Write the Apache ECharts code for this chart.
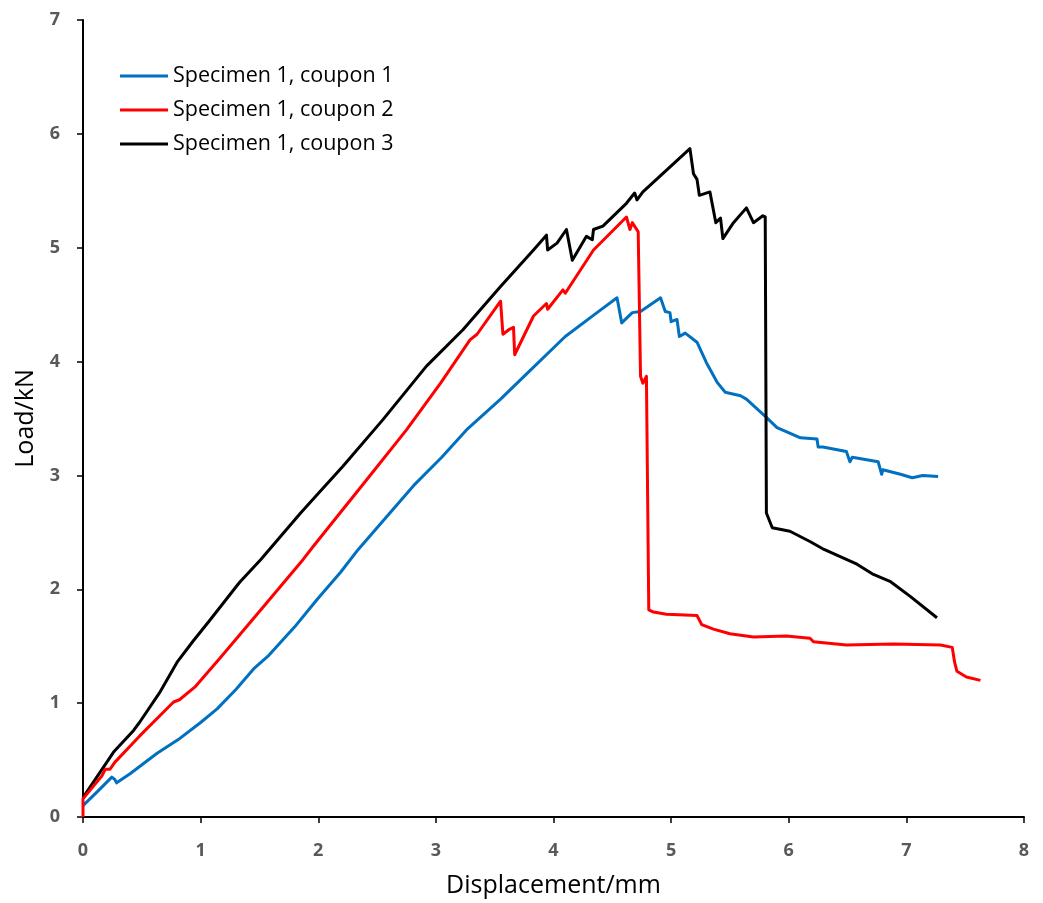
<!DOCTYPE html>
<html>
<head>
<meta charset="utf-8">
<script src="https://cdn.jsdelivr.net/npm/echarts@6/dist/echarts.min.js"></script>
<style>html,body{margin:0;padding:0;background:#fff;}#chart{width:1043px;height:903px;}</style>
</head>
<body>
<div id="chart"></div>
<script>
const seriesNames = ['Specimen 1, coupon 1', 'Specimen 1, coupon 2', 'Specimen 1, coupon 3'];
const xTicks = [0,1,2,3,4,5,6,7,8];
const yTicks = [0,1,2,3,4,5,6,7];

// [displacement mm, load kN]
const coupon1 = [
  [0,0.10],[0.12,0.22],[0.245,0.35],[0.27,0.33],[0.286,0.30],[0.40,0.38],[0.63,0.56],[0.81,0.68],
  [1.00,0.83],[1.14,0.95],[1.30,1.12],[1.45,1.30],[1.58,1.42],[1.80,1.67],[1.99,1.91],[2.19,2.15],
  [2.34,2.35],[2.55,2.60],[2.81,2.91],[3.05,3.16],[3.26,3.40],[3.55,3.67],[3.80,3.92],[4.10,4.22],
  [4.37,4.43],[4.54,4.56],[4.58,4.34],[4.67,4.43],[4.74,4.44],[4.91,4.56],[4.95,4.44],[4.99,4.43],
  [5.00,4.35],[5.05,4.37],[5.07,4.22],[5.12,4.25],[5.22,4.17],[5.30,3.99],[5.39,3.82],[5.46,3.73],
  [5.59,3.70],[5.64,3.67],[5.81,3.51],[5.90,3.42],[6.10,3.33],[6.24,3.32],[6.25,3.25],[6.29,3.25],
  [6.49,3.21],[6.52,3.12],[6.54,3.16],[6.76,3.12],[6.79,3.01],[6.80,3.05],[6.95,3.01],[7.05,2.98],
  [7.14,3.00],[7.27,2.99]
];
const coupon2 = [
  [0,0],[0,0.16],[0.08,0.26],[0.16,0.36],[0.19,0.42],[0.23,0.42],[0.27,0.48],[0.48,0.71],[0.77,1.01],
  [0.82,1.03],[0.95,1.14],[1.16,1.39],[1.48,1.78],[1.87,2.26],[1.96,2.38],[2.41,2.96],[2.75,3.40],
  [3.04,3.81],[3.29,4.19],[3.35,4.24],[3.55,4.53],[3.57,4.24],[3.62,4.28],[3.66,4.30],[3.67,4.06],
  [3.83,4.40],[3.94,4.51],[3.95,4.46],[4.08,4.63],[4.10,4.60],[4.34,4.98],[4.62,5.27],[4.65,5.16],
  [4.67,5.22],[4.72,5.14],[4.74,3.87],[4.76,3.81],[4.79,3.87],[4.81,1.82],[4.85,1.80],[4.96,1.78],
  [5.22,1.77],[5.26,1.69],[5.36,1.65],[5.50,1.61],[5.70,1.58],[5.98,1.59],[6.18,1.57],[6.21,1.54],
  [6.49,1.51],[6.89,1.52],[7.29,1.51],[7.39,1.49],[7.41,1.36],[7.43,1.28],[7.51,1.23],[7.63,1.20]
];
const coupon3 = [
  [0,0.17],[0.26,0.57],[0.43,0.76],[0.48,0.83],[0.65,1.09],[0.80,1.36],[0.94,1.55],[1.08,1.73],
  [1.33,2.06],[1.51,2.26],[1.85,2.67],[1.99,2.83],[2.21,3.08],[2.55,3.49],[2.92,3.96],[3.23,4.28],
  [3.55,4.66],[3.83,4.98],[3.94,5.11],[3.95,4.98],[4.03,5.04],[4.11,5.16],[4.16,4.89],[4.28,5.10],
  [4.33,5.07],[4.34,5.16],[4.42,5.19],[4.62,5.39],[4.69,5.48],[4.71,5.42],[4.76,5.49],[5.16,5.87],
  [5.19,5.65],[5.22,5.60],[5.24,5.46],[5.33,5.49],[5.38,5.22],[5.42,5.26],[5.44,5.08],[5.53,5.22],
  [5.64,5.35],[5.70,5.22],[5.78,5.28],[5.80,5.27],[5.81,2.67],[5.86,2.54],[6.01,2.51],[6.18,2.42],
  [6.30,2.35],[6.58,2.22],[6.72,2.13],[6.86,2.07],[7.03,1.94],[7.26,1.75]
];

const colors = ['#0070C0', '#FF0000', '#000000'];
const datasets = [coupon1, coupon2, coupon3];

const chart = echarts.init(document.getElementById('chart'), null, {renderer: 'canvas'});
const tickFont = {color: '#595959', fontSize: 18, fontWeight: 'bold', fontFamily: 'Open Sans'};
chart.setOption({
  animation: false,
  backgroundColor: '#ffffff',
  grid: {left: 83, right: 19, top: 20, bottom: 85, containLabel: false},
  legend: {
    orient: 'vertical', left: 120, top: 65, padding: 0, itemWidth: 48, itemHeight: 3, itemGap: 12, icon: 'rect',
    textStyle: {fontSize: 21.5, color: '#000', fontFamily: 'Open Sans'},
    data: seriesNames
  },
  xAxis: {
    type: 'value', min: 0, max: 8, interval: 1,
    name: 'Displacement/mm', nameLocation: 'middle', nameGap: 56,
    nameTextStyle: {fontSize: 25, color: '#000', fontFamily: 'Open Sans'},
    axisLine: {lineStyle: {color: '#000', width: 2}},
    axisTick: {show: true, inside: false, length: 6, lineStyle: {color: '#000', width: 1.5}},
    axisLabel: Object.assign({margin: 25}, tickFont),
    splitLine: {show: false}
  },
  yAxis: {
    type: 'value', min: 0, max: 7, interval: 1,
    name: 'Load/kN', nameLocation: 'middle', nameGap: 45, nameRotate: 90,
    nameTextStyle: {fontSize: 25, color: '#000', fontFamily: 'Open Sans'},
    axisLine: {show: true, lineStyle: {color: '#000', width: 2}},
    axisTick: {show: true, inside: false, length: 6, lineStyle: {color: '#000', width: 1.5}},
    axisLabel: Object.assign({margin: 23}, tickFont),
    splitLine: {show: false}
  },
  series: datasets.map((d, i) => ({
    name: seriesNames[i], type: 'line', data: d, showSymbol: false, symbol: 'none',
    lineStyle: {color: colors[i], width: 3, join: 'round'},
    itemStyle: {color: colors[i]}, smooth: false, z: 2 + (i === 1 ? 1 : 0)
  }))
});
</script>
</body>
</html>
